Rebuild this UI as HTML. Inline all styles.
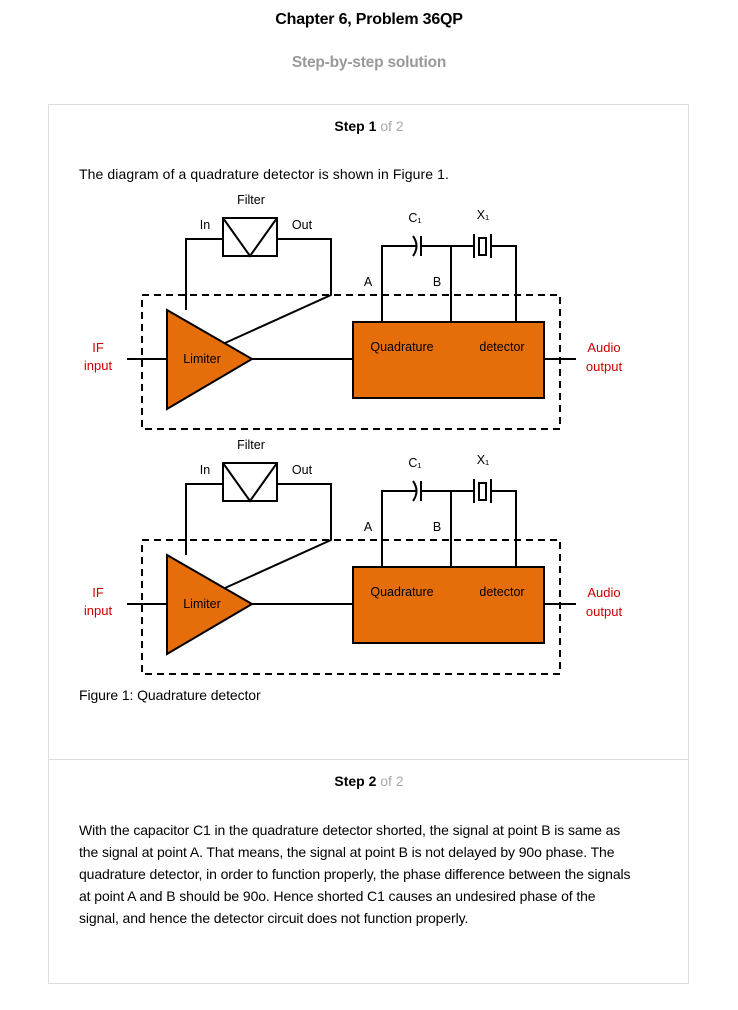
<!DOCTYPE html>
<html><head><meta charset="utf-8"><style>
body{margin:0;width:738px;height:1010px;background:#fff;font-family:"Liberation Sans",Arial,sans-serif;position:relative;overflow:hidden}
.a{position:absolute}
.c{left:0;width:738px;text-align:center}
.card{left:48px;top:104px;width:639px;height:878px;border:1px solid #ddd}
p{margin:0}
</style></head><body>
<div class="a c" style="top:11px;font-size:16px;font-weight:bold;color:#000;letter-spacing:-0.2px">Chapter 6, Problem 36QP</div>
<div class="a c" style="top:54px;font-size:15.5px;font-weight:bold;color:#999;letter-spacing:-0.2px">Step-by-step solution</div>
<div class="a card"></div>
<div class="a" style="left:48px;top:759px;width:641px;height:1px;background:#ddd"></div>
<div class="a c" style="top:118px;font-size:14px"><b>Step 1</b> <span style="color:#aaa">of 2</span></div>
<div class="a" style="left:79px;top:166px;font-size:14px;letter-spacing:0.1px">The diagram of a quadrature detector is shown in Figure 1.</div>
<div class="a" style="left:79px;top:687px;font-size:14px;letter-spacing:-0.1px">Figure 1: Quadrature detector</div>
<div class="a c" style="top:773px;font-size:14px"><b>Step 2</b> <span style="color:#aaa">of 2</span></div>
<div class="a" style="left:79px;top:819px;width:553px;font-size:14px;line-height:22px;letter-spacing:-0.1px">With the capacitor C1 in the quadrature detector shorted, the signal at point B is same as the signal at point A. That means, the signal at point B is not delayed by 90o phase. The quadrature detector, in order to function properly, the phase difference between the signals at point A and B should be 90o. Hence shorted C1 causes an undesired phase of the signal, and hence the detector circuit does not function properly.</div>
<svg class="a" style="left:0;top:0" width="738" height="1010">
<defs>
<g id="d" stroke="#000" stroke-width="2" fill="none" font-family="Liberation Sans,DejaVu Sans,sans-serif" font-size="12.5">
<rect x="223" y="218" width="54" height="38"/>
<path d="M223 218L250 256L277 218"/>
<path d="M223 239H186V310M277 239H331V295L225 343"/>
<rect x="142" y="295" width="418" height="134" stroke-dasharray="7,5"/>
<polygon points="167,310 167,409 252,359" fill="#e66e0a"/>
<path d="M127 359H167M252 359H353M544 359H576"/>
<rect x="353" y="322" width="191" height="76" fill="#e66e0a"/>
<path d="M382 322V246H417M421 246H474M491 246H516V322M451 322V246"/>
<path d="M413 236Q420 246 413 256M421 236V256" />
<path d="M474 234V258M491 234V258"/>
<rect x="479" y="238" width="7" height="17"/>
<g stroke="none" fill="#000">
<text x="251" y="204" text-anchor="middle">Filter</text>
<text x="205" y="229" text-anchor="middle">In</text>
<text x="302" y="229" text-anchor="middle">Out</text>
<text x="415" y="222" text-anchor="middle">C₁</text>
<text x="483" y="219" text-anchor="middle">X₁</text>
<text x="368" y="286" text-anchor="middle">A</text>
<text x="437" y="286" text-anchor="middle">B</text>
<text x="402" y="351" text-anchor="middle">Quadrature</text>
<text x="502" y="351" text-anchor="middle">detector</text>
<text x="202" y="363" text-anchor="middle">Limiter</text>
</g>
<g stroke="none" fill="#c00" font-size="13">
<text x="98" y="352" text-anchor="middle">IF</text>
<text x="98" y="370" text-anchor="middle">input</text>
<text x="604" y="352" text-anchor="middle">Audio</text>
<text x="604" y="371" text-anchor="middle">output</text>
</g>
</g>
</defs>
<use href="#d"/>
<use href="#d" y="245"/>
</svg>
</body></html>
